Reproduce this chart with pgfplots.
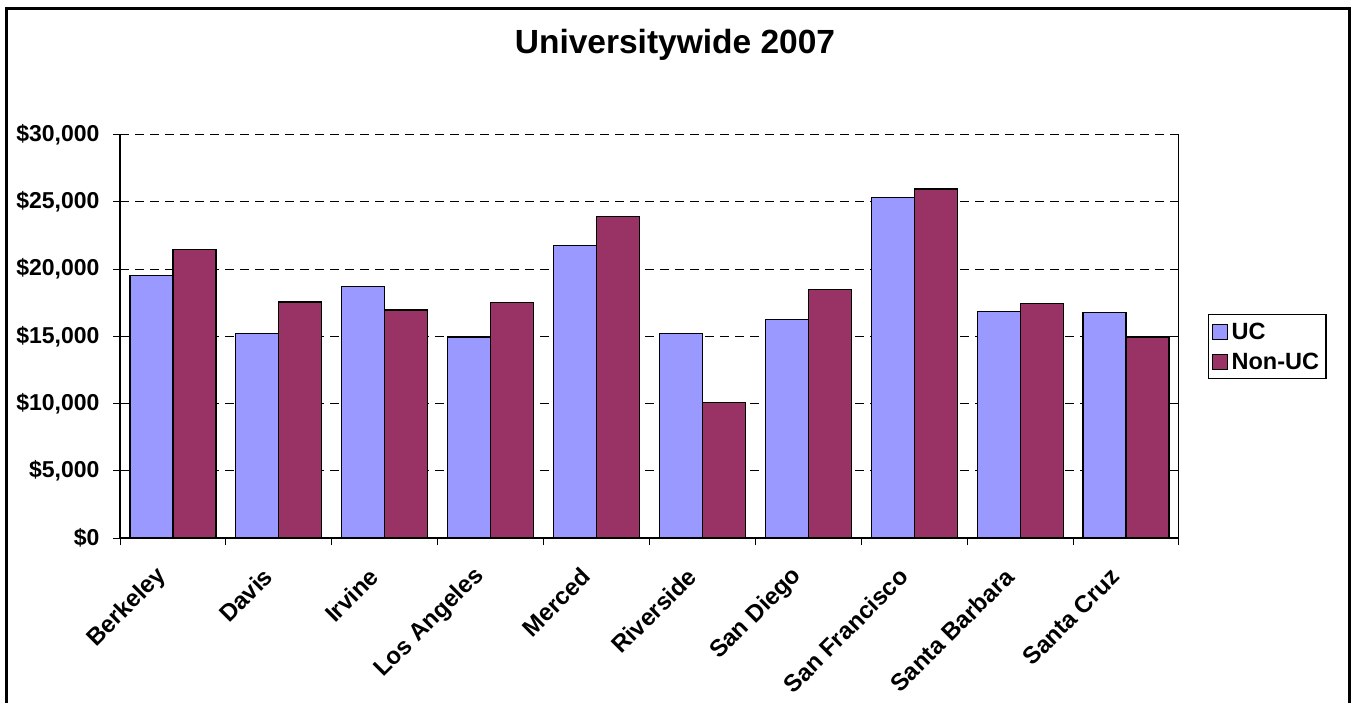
\documentclass[border=0pt]{standalone}
\usepackage{pgfplots}
\pgfplotsset{compat=1.18}
\usepackage{fontspec}
\setmainfont{Liberation Sans}

\definecolor{ucblue}{HTML}{9999FF}
\definecolor{nonuc}{HTML}{993366}

% campus index, UC, Non-UC
\pgfplotstableread{
idx uc    nonuc
0   19500 21450
1   15200 17550
2   18700 16950
3   14950 17500
4   21750 23900
5   15200 10100
6   16250 18500
7   25300 25950
8   16850 17450
9   16750 14950
}\tuition

\newcommand{\lbl}{\fontsize{23}{26}\selectfont\bfseries}
\newcommand{\xlbl}{\fontsize{24}{27}\selectfont\bfseries}
\newcommand{\leg}{\fontsize{23.5}{26}\selectfont\bfseries}

\begin{document}
\begin{tikzpicture}
\useasboundingbox (0,0) rectangle (1351pt,-702pt);
\draw[line width=3pt] (6pt,-720pt) -- (6pt,-8pt) -- (1349pt,-8pt) -- (1349pt,-720pt);
\node[font=\fontsize{33.5}{38}\selectfont\bfseries] at (675pt,-45pt) {Universitywide 2007};
\begin{axis}[
  at={(120pt,-538pt)}, anchor=south west,
  scale only axis, width=1059pt, height=403.5pt,
  ybar=0pt, bar width=43pt,
  xmin=-0.5, xmax=9.5, ymin=0, ymax=30000,
  axis x line*=bottom, axis y line*=left,
  axis line style={-, line width=1.2pt},
  tick align=outside, major tick length=7pt,
  tick style={black, line width=1pt},
  ytick={0,5000,...,30000},
  ymajorgrids,
  grid style={black, line width=1pt, dash pattern=on 9pt off 6pt},
  scaled y ticks=false,
  /pgf/number format/assume math mode=true,
  yticklabel={\$\pgfmathprintnumber[fixed,1000 sep={,}]{\tick}},
  yticklabel style={font=\lbl, xshift=-10pt},
  xtick={-0.5,0.5,...,9.5}, xticklabels={},
  extra x ticks={0,...,9},
  extra x tick labels={Berkeley,Davis,Irvine,Los Angeles,Merced,Riverside,San Diego,San Francisco,Santa Barbara,Santa Cruz},
  extra x tick style={tick style={draw=none}},
  xticklabel shift=25pt,
  xticklabel style={font=\xlbl, xshift=-8pt, rotate=45, anchor=east},
  legend cell align=left,
  legend style={at={(1.0274,0.5545)}, anchor=north west, draw=black,
    line width=1.2pt, font=\leg, row sep=6pt, inner xsep=3pt, inner ysep=5pt,
    nodes={inner xsep=4pt, inner ysep=3pt}},
]
\addplot[fill=ucblue, draw=black, line width=1.2pt,
  legend image code/.code={\draw[fill=ucblue, draw=black, line width=1pt] (0pt,-7.5pt) rectangle (15pt,7.5pt);}]
  table[x=idx, y=uc] {\tuition};
\addplot[fill=nonuc, draw=black, line width=1.2pt,
  legend image code/.code={\draw[fill=nonuc, draw=black, line width=1pt] (0pt,-7.5pt) rectangle (15pt,7.5pt);}]
  table[x=idx, y=nonuc] {\tuition};
\draw[black, line width=1.2pt] (rel axis cs:1,0) -- (rel axis cs:1,1);
\legend{UC, Non-UC}
\end{axis}
\end{tikzpicture}
\end{document}
